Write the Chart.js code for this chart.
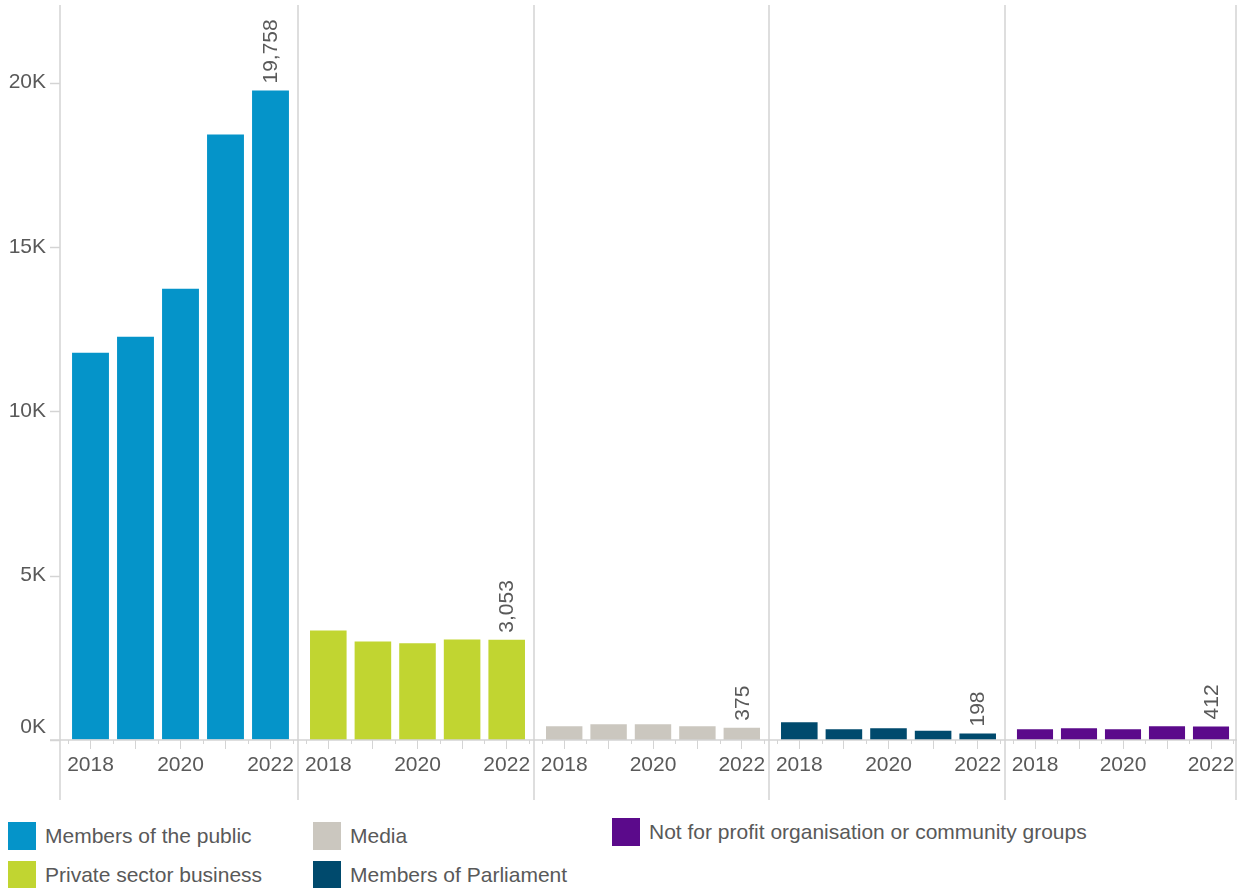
<!DOCTYPE html>
<html>
<head>
<meta charset="utf-8">
<script src="https://cdn.jsdelivr.net/npm/chart.js@4/dist/chart.umd.min.js"></script>
<style>
  body { margin: 0; background: #fff; font-family: "Liberation Sans", Arial, sans-serif; }
  #wrap { position: relative; width: 1237px; height: 888px; }
  .panel { position: absolute; top: 0; height: 810px; }
  .leg { position: absolute; display: flex; align-items: center; font-size: 21px; color: #595959; white-space: nowrap; }
  .leg span.sw { display: inline-block; width: 28px; height: 28px; margin-right: 9px; }
</style>
</head>
<body>
<div id="wrap">
  <div id="panels"></div>
  <div id="legend"></div>
</div>
<script>
// categories
var years = ['2018', '2019', '2020', '2021', '2022'];
var shownYears = ['2018', '2020', '2022'];
var groups = ['Members of the public', 'Private sector business', 'Media', 'Members of Parliament', 'Not for profit organisation or community groups'];
var colors = ['#0594C9', '#C1D531', '#CBC7BF', '#004A6D', '#5B0A8B'];

// values per group, 2018..2022
var publicVals = [11780, 12270, 13730, 18420, 19758];
var privateVals = [3330, 3000, 2940, 3060, 3053];
var mediaVals = [421, 482, 482, 421, 375];
var mpVals = [543, 330, 360, 279, 198];
var nfpVals = [330, 360, 330, 415, 412];

var yTicks = [0, 5000, 10000, 15000, 20000];
var yMax = 22360;

var allVals = [publicVals, privateVals, mediaVals, mpVals, nfpVals];

var textColor = '#595959';
var lineColor = '#d4d4d4';
var fontFamily = '"Liberation Sans", Arial, sans-serif';
var axisW = 60;                                 // width of the y axis strip
var edges = [60, 297, 533, 768, 1004, 1237];   // panel separators

function panelPlugin(k) {
    return {
        id: 'panel' + k,
        afterDraw: function (chart) {
            var ctx = chart.ctx;
            var xs = chart.scales.x, ys = chart.scales.y;
            var top = chart.chartArea.top, base = ys.getPixelForValue(0);
            var step = xs.getPixelForValue(1) - xs.getPixelForValue(0);
            var left = k === 0 ? axisW : 1;
            var w = chart.width;
            ctx.save();
            ctx.strokeStyle = lineColor;

            // separators
            ctx.lineWidth = 1.5;
            ctx.beginPath();
            ctx.moveTo(left, top);
            ctx.lineTo(left, 800);
            if (k === groups.length - 1) {
                ctx.moveTo(w - 1, top);
                ctx.lineTo(w - 1, 800);
            }
            // baseline
            ctx.moveTo(k === 0 ? left - 10 : 0, base);
            ctx.lineTo(w, base);
            ctx.stroke();

            // y ticks on the first panel
            if (k === 0) {
                yTicks.forEach(function (v) {
                    var py = Math.round(ys.getPixelForValue(v)) + 0.5;
                    ctx.beginPath();
                    ctx.moveTo(left - 10, py);
                    ctx.lineTo(left, py);
                    ctx.stroke();
                });
            }

            // short ticks between bars
            ctx.lineWidth = 1;
            for (var i = 0; i <= years.length; i++) {
                var bx = Math.round(xs.getPixelForValue(i) - step / 2) + 0.5;
                ctx.beginPath();
                ctx.moveTo(bx, base);
                ctx.lineTo(bx, base + 4);
                ctx.stroke();
            }

            ctx.fillStyle = textColor;
            ctx.font = '21px ' + fontFamily;
            ctx.textBaseline = 'middle';

            // 0K label sits above its tick
            if (k === 0) {
                ctx.textAlign = 'right';
                ctx.fillText('0K', left - 14, base - 13);
            }

            // value label on the last bar
            var meta = chart.getDatasetMeta(0);
            var idx = years.length - 1;
            var bar = meta.data[idx];
            ctx.textAlign = 'left';
            ctx.translate(bar.x, bar.y - 7);
            ctx.rotate(-Math.PI / 2);
            ctx.fillText(allVals[k][idx].toLocaleString('en-US'), 0, 1);
            ctx.restore();
        }
    };
}

var holder = document.getElementById('panels');
groups.forEach(function (g, k) {
    var x0 = k === 0 ? 0 : edges[k];
    var box = document.createElement('div');
    box.className = 'panel';
    box.style.left = x0 + 'px';
    box.style.width = (edges[k + 1] - x0) + 'px';
    var cv = document.createElement('canvas');
    box.appendChild(cv);
    holder.appendChild(box);

    new Chart(cv.getContext('2d'), {
        type: 'bar',
        data: {
            labels: years,
            datasets: [{
                label: g,
                data: allVals[k],
                backgroundColor: colors[k],
                categoryPercentage: 1,
                barPercentage: 0.82
            }]
        },
        options: {
            responsive: true,
            maintainAspectRatio: false,
            animation: false,
            layout: { padding: { top: 5, right: 4, left: k === 0 ? 0 : 9, bottom: 0 } },
            plugins: { legend: { display: false }, tooltip: { enabled: false } },
            scales: {
                x: {
                    type: 'category',
                    offset: true,
                    afterFit: function (s) { s.height = 70; s.paddingLeft = 0; s.paddingRight = 0; },
                    grid: { offset: false, drawOnChartArea: false, drawTicks: true, tickLength: 9, color: lineColor },
                    border: { display: false },
                    ticks: {
                        autoSkip: false,
                        maxRotation: 0,
                        padding: 4,
                        color: textColor,
                        font: { family: fontFamily, size: 21 },
                        callback: function (v) {
                            var l = years[v];
                            return shownYears.indexOf(l) >= 0 ? l : '';
                        }
                    }
                },
                y: {
                    display: k === 0,
                    min: 0,
                    max: yMax,
                    afterFit: function (s) {
                        s.width = k === 0 ? axisW + 8 : 0;
                        s.paddingTop = 0;
                        s.paddingBottom = 0;
                    },
                    afterBuildTicks: function (s) { s.ticks = yTicks.map(function (v) { return { value: v }; }); },
                    grid: { drawOnChartArea: false, drawTicks: false },
                    border: { display: false },
                    ticks: {
                        padding: 22,
                        color: textColor,
                        font: { family: fontFamily, size: 21 },
                        callback: function (v) { return v === 0 ? '' : (v / 1000) + 'K'; }
                    }
                }
            }
        },
        plugins: [panelPlugin(k)]
    });
});

// legend, three columns like the original
var legPos = [[8, 822], [8, 861], [313, 822], [313, 861], [612, 818]];
var legend = document.getElementById('legend');
groups.forEach(function (g, gi) {
    var d = document.createElement('div');
    d.className = 'leg';
    d.style.left = legPos[gi][0] + 'px';
    d.style.top = legPos[gi][1] + 'px';
    d.innerHTML = '<span class="sw" style="background:' + colors[gi] + '"></span>' + g;
    legend.appendChild(d);
});
</script>
</body>
</html>
